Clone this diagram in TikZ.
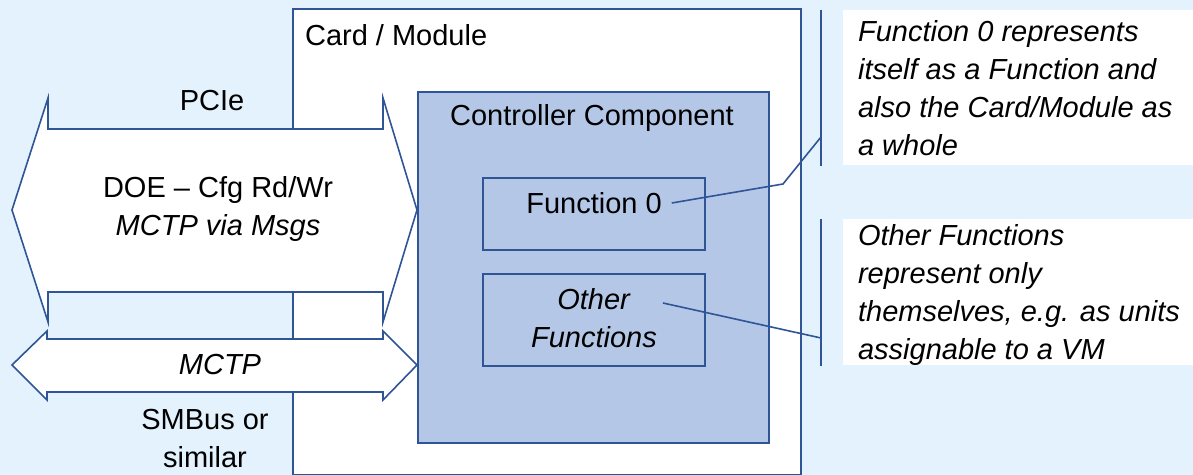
\documentclass[tikz,border=0pt]{standalone}
\usepackage{fontspec}
\setmainfont{Liberation Sans}
\usetikzlibrary{positioning}
\definecolor{bgblue}{HTML}{E4F2FD}
\definecolor{ctrlblue}{HTML}{B4C7E7}
\definecolor{edgeblue}{HTML}{2F5597}

\begin{document}
\fontsize{14.5}{19}\selectfont
\begin{tikzpicture}[x=0.5pt, y=-0.5pt]
% Define styles
\tikzstyle{box} = [draw=edgeblue, line width=0.8pt, inner sep=0pt]
\tikzstyle{func} = [box, fill=ctrlblue, minimum width=111pt, minimum height=36pt, anchor=north west]
\tikzstyle{bus} = [draw=edgeblue, line width=0.8pt, fill=white, line join=miter]
\tikzstyle{note} = [fill=white, inner sep=0pt, minimum width=175pt, anchor=north west]
\tikzstyle{link} = [draw=edgeblue, line width=0.8pt]
% Background
\fill[bgblue] (0,0) rectangle (1193,475);
\useasboundingbox (0,0) rectangle (1193,475);
% Place nodes
\node[note, minimum height=77.5pt] (note0) at (843,10) {};
\node[note, minimum height=73pt] (noteoth) at (843,219) {};
\node[anchor=west, align=left] (note0txt) at (848,88)
  {\textit{Function 0 represents}\\\textit{itself as a Function and}\\\textit{also the Card/Module as}\\\textit{a whole}};
\node[anchor=west, align=left] (noteothtxt) at (848,295)
  {\textit{Other Functions}\\\textit{represent only}\\\textit{themselves, e.g. as units}\\\textit{assignable to a VM}};
\node[box, fill=white, minimum width=254pt, minimum height=233pt, anchor=north west] (card) at (292,8) {};
\node[anchor=west] (cardtxt) at (295,35) {Card / Module};
% Buses
\draw[bus] (12,210) -- (48,98) -- (48,129) -- (383,129) -- (383,98) -- (417,210)
  -- (383,322) -- (383,292) -- (48,292) -- (48,322) -- cycle;
\draw[bus] (12,365) -- (47,331) -- (47,339) -- (383,339) -- (383,331) -- (417,365)
  -- (383,400) -- (383,392) -- (47,392) -- (47,400) -- cycle;
\node (pcie) at (212,101) {PCIe};
\node[align=center] (doe) at (218,209) {DOE – Cfg Rd/Wr\\\textit{MCTP via Msgs}};
\node (mctp) at (220,365) {\textit{MCTP}};
\node[align=center] (smbus) at (205,439) {SMBus or\\similar};
% Controller
\node[box, fill=ctrlblue, minimum width=175.5pt, minimum height=175.5pt, anchor=north west] (ctrl) at (417,91) {};
\node (ctrltxt) at (592,118) {Controller Component};
\node[func] (fun0) at (482,177) {};
\node (fun0txt) at (594,203) {Function 0};
\node[func, minimum height=46pt] (funoth) at (482,273) {};
\node[align=center] (othtxt) at (594,318) {\textit{Other}\\\textit{Functions}};
% Draw callouts
\coordinate (bend0) at (783,184);
\coordinate (tip0) at (821,137);
\coordinate (othtip) at (663,303);
\coordinate (tipoth) at (821,338);
\draw[link] ([xshift=-11pt]note0.north west) -- ([xshift=-11pt]note0.south west);
\draw[link] ([xshift=-11pt]noteoth.north west) -- ([xshift=-11pt]noteoth.south west);
\draw[link] (fun0txt.east) -- (bend0) -- (tip0);
\draw[link] (othtip) -- (tipoth);
\end{tikzpicture}
\end{document}
